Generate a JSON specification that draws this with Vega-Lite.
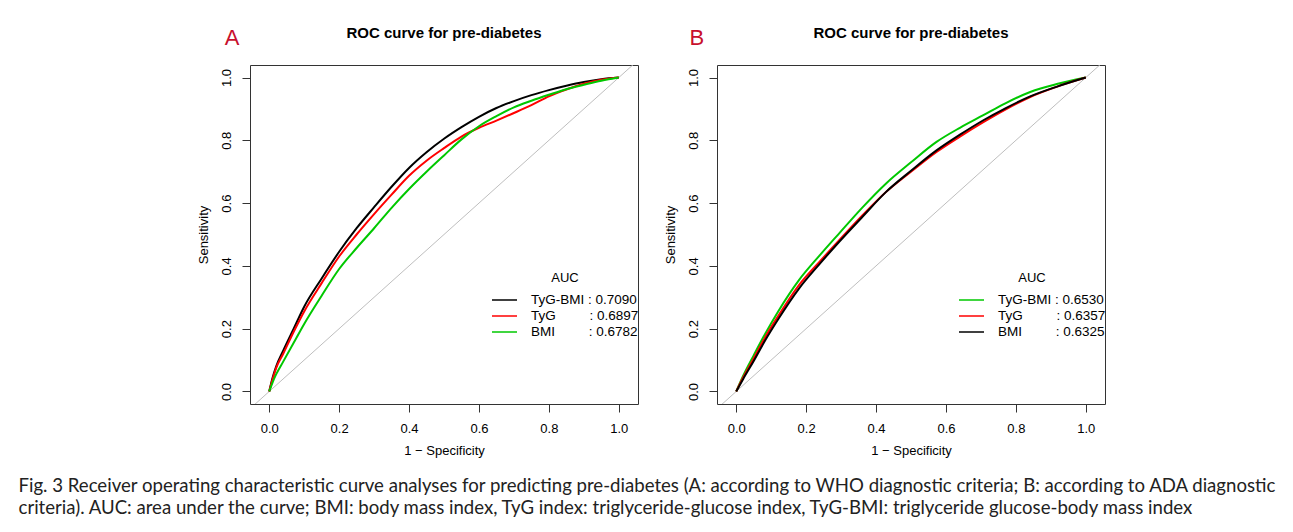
{
  "$schema": "https://vega.github.io/schema/vega-lite/v6.json",
  "background": "white",
  "padding": {"left": 18, "top": 25, "right": 5, "bottom": 5},
  "config": {
    "font": "Liberation Sans",
    "view": {"stroke": "#333333", "strokeWidth": 1},
    "axis": {
      "domain": false, "grid": false, "tickColor": "#333333", "tickSize": 8, "tickWidth": 1,
      "labelFont": "Liberation Sans", "labelFontSize": 13, "labelColor": "#000000",
      "titleFont": "Liberation Sans", "titleFontSize": 13, "titleFontWeight": "normal", "titleColor": "#000000"
    },
    "legend": {
      "orient": "none", "legendX": 241, "legendY": 207, "padding": 0,
      "titleAnchor": "middle", "titleFont": "Liberation Sans", "titleFontSize": 13, "titleFontWeight": "normal", "titleColor": "#000000", "titlePadding": 8,
      "labelFont": "Liberation Sans", "labelFontSize": 13.5, "labelColor": "#000000", "labelOffset": 13,
      "symbolType": "stroke", "symbolSize": 625, "symbolStrokeWidth": 1.5, "clipHeight": 14, "rowPadding": 2
    },
    "title": {"font": "Liberation Sans"}
  },
  "title": {
    "text": [
      "Fig. 3 Receiver operating characteristic curve analyses for predicting pre-diabetes (A: according to WHO diagnostic criteria; B: according to ADA diagnostic",
      "criteria). AUC: area under the curve; BMI: body mass index, TyG index: triglyceride-glucose index, TyG-BMI: triglyceride glucose-body mass index"
    ],
    "orient": "bottom", "anchor": "start", "frame": "bounds", "dx": -178,
    "font": "Lato", "fontSize": 18.6, "fontWeight": "normal", "color": "#222222",
    "lineHeight": 22, "offset": 19
  },
  "datasets": {
    "rocA": [
      {"series": "TyG-BMI", "fpr": 0, "tpr": 0}, {"series": "TyG-BMI", "fpr": 0.01, "tpr": 0.045}, {"series": "TyG-BMI", "fpr": 0.02, "tpr": 0.08}, {"series": "TyG-BMI", "fpr": 0.04, "tpr": 0.13}, {"series": "TyG-BMI", "fpr": 0.07, "tpr": 0.2}, {"series": "TyG-BMI", "fpr": 0.1, "tpr": 0.27}, {"series": "TyG-BMI", "fpr": 0.15, "tpr": 0.36}, {"series": "TyG-BMI", "fpr": 0.2, "tpr": 0.445}, {"series": "TyG-BMI", "fpr": 0.25, "tpr": 0.52}, {"series": "TyG-BMI", "fpr": 0.3, "tpr": 0.587}, {"series": "TyG-BMI", "fpr": 0.35, "tpr": 0.652}, {"series": "TyG-BMI", "fpr": 0.4, "tpr": 0.712}, {"series": "TyG-BMI", "fpr": 0.45, "tpr": 0.762}, {"series": "TyG-BMI", "fpr": 0.5, "tpr": 0.805}, {"series": "TyG-BMI", "fpr": 0.55, "tpr": 0.842}, {"series": "TyG-BMI", "fpr": 0.6, "tpr": 0.875}, {"series": "TyG-BMI", "fpr": 0.65, "tpr": 0.903}, {"series": "TyG-BMI", "fpr": 0.7, "tpr": 0.925}, {"series": "TyG-BMI", "fpr": 0.75, "tpr": 0.944}, {"series": "TyG-BMI", "fpr": 0.8, "tpr": 0.96}, {"series": "TyG-BMI", "fpr": 0.85, "tpr": 0.974}, {"series": "TyG-BMI", "fpr": 0.9, "tpr": 0.986}, {"series": "TyG-BMI", "fpr": 0.95, "tpr": 0.995}, {"series": "TyG-BMI", "fpr": 1, "tpr": 1},
      {"series": "TyG", "fpr": 0, "tpr": 0}, {"series": "TyG", "fpr": 0.01, "tpr": 0.04}, {"series": "TyG", "fpr": 0.02, "tpr": 0.075}, {"series": "TyG", "fpr": 0.04, "tpr": 0.12}, {"series": "TyG", "fpr": 0.07, "tpr": 0.19}, {"series": "TyG", "fpr": 0.1, "tpr": 0.255}, {"series": "TyG", "fpr": 0.15, "tpr": 0.345}, {"series": "TyG", "fpr": 0.2, "tpr": 0.43}, {"series": "TyG", "fpr": 0.25, "tpr": 0.5}, {"series": "TyG", "fpr": 0.3, "tpr": 0.565}, {"series": "TyG", "fpr": 0.35, "tpr": 0.627}, {"series": "TyG", "fpr": 0.4, "tpr": 0.687}, {"series": "TyG", "fpr": 0.45, "tpr": 0.735}, {"series": "TyG", "fpr": 0.5, "tpr": 0.775}, {"series": "TyG", "fpr": 0.55, "tpr": 0.812}, {"series": "TyG", "fpr": 0.6, "tpr": 0.84}, {"series": "TyG", "fpr": 0.65, "tpr": 0.863}, {"series": "TyG", "fpr": 0.7, "tpr": 0.887}, {"series": "TyG", "fpr": 0.75, "tpr": 0.912}, {"series": "TyG", "fpr": 0.8, "tpr": 0.94}, {"series": "TyG", "fpr": 0.85, "tpr": 0.962}, {"series": "TyG", "fpr": 0.9, "tpr": 0.98}, {"series": "TyG", "fpr": 0.95, "tpr": 0.993}, {"series": "TyG", "fpr": 1, "tpr": 1},
      {"series": "BMI", "fpr": 0, "tpr": 0}, {"series": "BMI", "fpr": 0.01, "tpr": 0.03}, {"series": "BMI", "fpr": 0.02, "tpr": 0.055}, {"series": "BMI", "fpr": 0.04, "tpr": 0.095}, {"series": "BMI", "fpr": 0.07, "tpr": 0.155}, {"series": "BMI", "fpr": 0.1, "tpr": 0.215}, {"series": "BMI", "fpr": 0.15, "tpr": 0.305}, {"series": "BMI", "fpr": 0.2, "tpr": 0.39}, {"series": "BMI", "fpr": 0.25, "tpr": 0.457}, {"series": "BMI", "fpr": 0.3, "tpr": 0.52}, {"series": "BMI", "fpr": 0.35, "tpr": 0.585}, {"series": "BMI", "fpr": 0.4, "tpr": 0.645}, {"series": "BMI", "fpr": 0.45, "tpr": 0.7}, {"series": "BMI", "fpr": 0.5, "tpr": 0.752}, {"series": "BMI", "fpr": 0.55, "tpr": 0.803}, {"series": "BMI", "fpr": 0.6, "tpr": 0.845}, {"series": "BMI", "fpr": 0.65, "tpr": 0.877}, {"series": "BMI", "fpr": 0.7, "tpr": 0.905}, {"series": "BMI", "fpr": 0.75, "tpr": 0.926}, {"series": "BMI", "fpr": 0.8, "tpr": 0.945}, {"series": "BMI", "fpr": 0.85, "tpr": 0.963}, {"series": "BMI", "fpr": 0.9, "tpr": 0.977}, {"series": "BMI", "fpr": 0.95, "tpr": 0.99}, {"series": "BMI", "fpr": 1, "tpr": 1}
    ],
    "rocB": [
      {"series": "TyG-BMI", "fpr": 0, "tpr": 0}, {"series": "TyG-BMI", "fpr": 0.02, "tpr": 0.05}, {"series": "TyG-BMI", "fpr": 0.05, "tpr": 0.115}, {"series": "TyG-BMI", "fpr": 0.083, "tpr": 0.184}, {"series": "TyG-BMI", "fpr": 0.12, "tpr": 0.255}, {"series": "TyG-BMI", "fpr": 0.179, "tpr": 0.354}, {"series": "TyG-BMI", "fpr": 0.24, "tpr": 0.435}, {"series": "TyG-BMI", "fpr": 0.294, "tpr": 0.503}, {"series": "TyG-BMI", "fpr": 0.36, "tpr": 0.585}, {"series": "TyG-BMI", "fpr": 0.428, "tpr": 0.662}, {"series": "TyG-BMI", "fpr": 0.5, "tpr": 0.73}, {"series": "TyG-BMI", "fpr": 0.573, "tpr": 0.795}, {"series": "TyG-BMI", "fpr": 0.64, "tpr": 0.84}, {"series": "TyG-BMI", "fpr": 0.707, "tpr": 0.88}, {"series": "TyG-BMI", "fpr": 0.77, "tpr": 0.918}, {"series": "TyG-BMI", "fpr": 0.841, "tpr": 0.954}, {"series": "TyG-BMI", "fpr": 0.92, "tpr": 0.98}, {"series": "TyG-BMI", "fpr": 1, "tpr": 1},
      {"series": "TyG", "fpr": 0, "tpr": 0}, {"series": "TyG", "fpr": 0.02, "tpr": 0.045}, {"series": "TyG", "fpr": 0.05, "tpr": 0.105}, {"series": "TyG", "fpr": 0.083, "tpr": 0.173}, {"series": "TyG", "fpr": 0.12, "tpr": 0.24}, {"series": "TyG", "fpr": 0.179, "tpr": 0.338}, {"series": "TyG", "fpr": 0.24, "tpr": 0.415}, {"series": "TyG", "fpr": 0.294, "tpr": 0.481}, {"series": "TyG", "fpr": 0.36, "tpr": 0.56}, {"series": "TyG", "fpr": 0.428, "tpr": 0.635}, {"series": "TyG", "fpr": 0.5, "tpr": 0.7}, {"series": "TyG", "fpr": 0.573, "tpr": 0.763}, {"series": "TyG", "fpr": 0.64, "tpr": 0.812}, {"series": "TyG", "fpr": 0.707, "tpr": 0.858}, {"series": "TyG", "fpr": 0.77, "tpr": 0.898}, {"series": "TyG", "fpr": 0.841, "tpr": 0.938}, {"series": "TyG", "fpr": 0.92, "tpr": 0.972}, {"series": "TyG", "fpr": 1, "tpr": 1},
      {"series": "BMI", "fpr": 0, "tpr": 0}, {"series": "BMI", "fpr": 0.02, "tpr": 0.04}, {"series": "BMI", "fpr": 0.05, "tpr": 0.097}, {"series": "BMI", "fpr": 0.083, "tpr": 0.163}, {"series": "BMI", "fpr": 0.12, "tpr": 0.23}, {"series": "BMI", "fpr": 0.179, "tpr": 0.327}, {"series": "BMI", "fpr": 0.24, "tpr": 0.408}, {"series": "BMI", "fpr": 0.294, "tpr": 0.476}, {"series": "BMI", "fpr": 0.36, "tpr": 0.555}, {"series": "BMI", "fpr": 0.428, "tpr": 0.635}, {"series": "BMI", "fpr": 0.5, "tpr": 0.703}, {"series": "BMI", "fpr": 0.573, "tpr": 0.768}, {"series": "BMI", "fpr": 0.64, "tpr": 0.818}, {"series": "BMI", "fpr": 0.707, "tpr": 0.864}, {"series": "BMI", "fpr": 0.77, "tpr": 0.902}, {"series": "BMI", "fpr": 0.841, "tpr": 0.94}, {"series": "BMI", "fpr": 0.92, "tpr": 0.972}, {"series": "BMI", "fpr": 1, "tpr": 1}
    ]
  },
  "spacing": 23,
  "resolve": {"scale": {"color": "independent"}},
  "hconcat": [
    {
      "width": 388, "height": 339,
      "layer": [
        {
          "data": {"values": [{}]},
          "mark": {"type": "rule", "color": "#bebebe", "strokeWidth": 1, "clip": true},
          "encoding": {"x": {"datum": -0.06, "type": "quantitative"}, "y": {"datum": -0.06, "type": "quantitative"}, "x2": {"datum": 1.06}, "y2": {"datum": 1.06}}
        },
        {
          "data": {"name": "rocA"},
          "mark": {"type": "line", "strokeWidth": 2, "clip": true, "interpolate": "monotone"},
          "encoding": {
            "x": {"field": "fpr", "type": "quantitative", "scale": {"domain": [-0.055, 1.055], "nice": false, "zero": false},
                  "axis": {"values": [0, 0.2, 0.4, 0.6, 0.8, 1], "format": ".1f", "title": "1 \u2212 Specificity", "labelPadding": 10, "titlePadding": 9}},
            "y": {"field": "tpr", "type": "quantitative", "scale": {"domain": [-0.04, 1.04], "nice": false, "zero": false},
                  "axis": {"values": [0, 0.2, 0.4, 0.6, 0.8, 1], "format": ".1f", "title": "Sensitivity", "labelAngle": -90, "labelAlign": "center", "labelBaseline": "alphabetic", "labelPadding": 12, "titlePadding": 10}},
            "color": {"field": "series", "type": "nominal", "sort": null,
                      "scale": {"domain": ["TyG-BMI", "TyG", "BMI"], "range": ["#000000", "#ff0000", "#00c800"]},
                      "legend": {"title": "AUC", "labelExpr": "datum.label == 'TyG-BMI' ? 'TyG-BMI : 0.7090' : datum.label == 'TyG' ? 'TyG\u00a0\u00a0\u00a0\u00a0\u00a0\u00a0\u00a0\u00a0\u00a0: 0.6897' : 'BMI\u00a0\u00a0\u00a0\u00a0\u00a0\u00a0\u00a0\u00a0\u00a0: 0.6782'"}}
          }
        },
        {
          "data": {"values": [{}]},
          "mark": {"type": "text", "text": "ROC curve for pre-diabetes", "font": "Liberation Sans", "fontSize": 15, "fontWeight": "bold", "color": "#000000", "align": "center", "baseline": "alphabetic"},
          "encoding": {"x": {"datum": 0.5, "type": "quantitative"}, "y": {"datum": 1.1275, "type": "quantitative"}}
        },
        {
          "data": {"values": [{}]},
          "mark": {"type": "text", "text": "A", "font": "Liberation Sans", "fontSize": 22, "color": "#c8102e", "align": "center", "baseline": "middle"},
          "encoding": {"x": {"datum": -0.106, "type": "quantitative"}, "y": {"datum": 1.127, "type": "quantitative"}}
        }
      ]
    },
    {
      "width": 388, "height": 339,
      "layer": [
        {
          "data": {"values": [{}]},
          "mark": {"type": "rule", "color": "#bebebe", "strokeWidth": 1, "clip": true},
          "encoding": {"x": {"datum": -0.06, "type": "quantitative"}, "y": {"datum": -0.06, "type": "quantitative"}, "x2": {"datum": 1.06}, "y2": {"datum": 1.06}}
        },
        {
          "data": {"name": "rocB"},
          "mark": {"type": "line", "strokeWidth": 2, "clip": true, "interpolate": "monotone"},
          "encoding": {
            "x": {"field": "fpr", "type": "quantitative", "scale": {"domain": [-0.055, 1.055], "nice": false, "zero": false},
                  "axis": {"values": [0, 0.2, 0.4, 0.6, 0.8, 1], "format": ".1f", "title": "1 \u2212 Specificity", "labelPadding": 10, "titlePadding": 9}},
            "y": {"field": "tpr", "type": "quantitative", "scale": {"domain": [-0.04, 1.04], "nice": false, "zero": false},
                  "axis": {"values": [0, 0.2, 0.4, 0.6, 0.8, 1], "format": ".1f", "title": "Sensitivity", "labelAngle": -90, "labelAlign": "center", "labelBaseline": "alphabetic", "labelPadding": 12, "titlePadding": 10}},
            "color": {"field": "series", "type": "nominal", "sort": null,
                      "scale": {"domain": ["TyG-BMI", "TyG", "BMI"], "range": ["#00c800", "#ff0000", "#000000"]},
                      "legend": {"title": "AUC", "labelExpr": "datum.label == 'TyG-BMI' ? 'TyG-BMI : 0.6530' : datum.label == 'TyG' ? 'TyG\u00a0\u00a0\u00a0\u00a0\u00a0\u00a0\u00a0\u00a0\u00a0: 0.6357' : 'BMI\u00a0\u00a0\u00a0\u00a0\u00a0\u00a0\u00a0\u00a0\u00a0: 0.6325'"}}
          }
        },
        {
          "data": {"values": [{}]},
          "mark": {"type": "text", "text": "ROC curve for pre-diabetes", "font": "Liberation Sans", "fontSize": 15, "fontWeight": "bold", "color": "#000000", "align": "center", "baseline": "alphabetic"},
          "encoding": {"x": {"datum": 0.5, "type": "quantitative"}, "y": {"datum": 1.1275, "type": "quantitative"}}
        },
        {
          "data": {"values": [{}]},
          "mark": {"type": "text", "text": "B", "font": "Liberation Sans", "fontSize": 22, "color": "#c8102e", "align": "center", "baseline": "middle"},
          "encoding": {"x": {"datum": -0.113, "type": "quantitative"}, "y": {"datum": 1.127, "type": "quantitative"}}
        }
      ]
    }
  ]
}
